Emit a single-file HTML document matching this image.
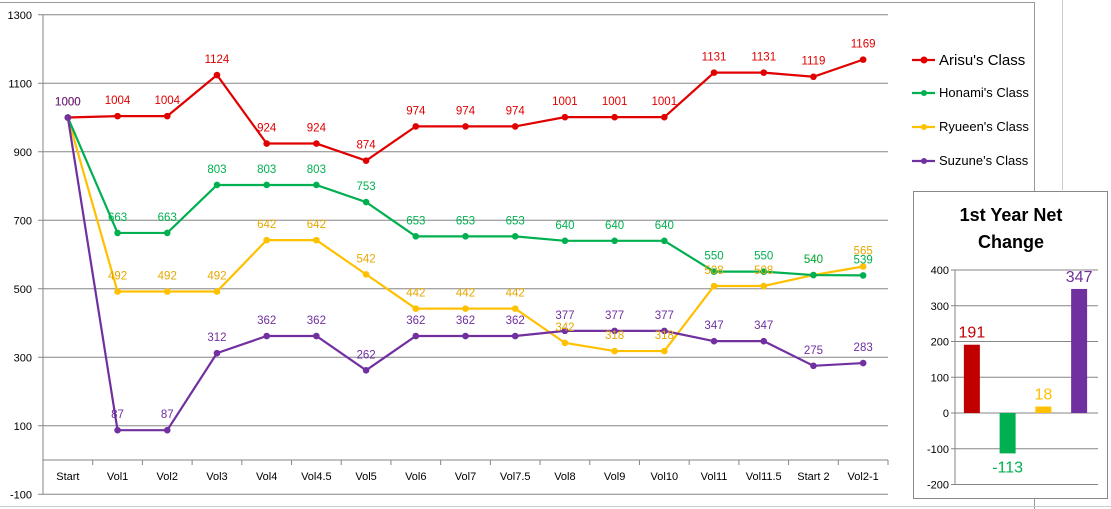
<!DOCTYPE html>
<html><head><meta charset="utf-8"><style>
html,body{margin:0;padding:0;background:#fff;}
body{width:1111px;height:509px;overflow:hidden;position:relative;font-family:"Liberation Sans",sans-serif;}
svg{position:absolute;left:0;top:0;}
</style></head><body>
<svg id="chart" width="1111" height="509">
  <line x1="0" y1="2.5" x2="1034" y2="2.5" stroke="#999"/>
  <line x1="1034.5" y1="2" x2="1034.5" y2="509" stroke="#999"/>
  <line x1="1062.5" y1="0" x2="1062.5" y2="190" stroke="#ccc"/>
  <line x1="0" y1="506.5" x2="1111" y2="506.5" stroke="#ccc"/>
  <g id="grid"></g><g id="lines"></g><g id="labels"></g>
  <g font-size="13" fill="#000">
    <g><line x1="912" y1="60" x2="935" y2="60" stroke="#e00000" stroke-width="2.2"/><circle cx="924" cy="60" r="3.5" fill="#e00000"/><text x="939" y="65" font-size="15">Arisu's Class</text></g>
    <g><line x1="912" y1="93" x2="935" y2="93" stroke="#00b050" stroke-width="2.2"/><circle cx="924" cy="93" r="3" fill="#00b050"/><text x="939" y="97">Honami's Class</text></g>
    <g><line x1="912" y1="127" x2="935" y2="127" stroke="#ffc000" stroke-width="2.2"/><circle cx="924" cy="127" r="3" fill="#ffc000"/><text x="939" y="131">Ryueen's Class</text></g>
    <g><line x1="912" y1="161" x2="935" y2="161" stroke="#7030a0" stroke-width="2.2"/><circle cx="924" cy="161" r="3" fill="#7030a0"/><text x="939" y="165">Suzune's Class</text></g>
  </g>
  <g>
    <rect x="913.5" y="191.5" width="194" height="307" fill="#fff" stroke="#888"/>
    <text x="1011" y="221" text-anchor="middle" font-size="18" font-weight="bold">1st Year Net</text>
    <text x="1011" y="248" text-anchor="middle" font-size="18" font-weight="bold">Change</text>
    <g id="inset"></g>
  </g>
</svg>
<script>
const categories=["Start","Vol1","Vol2","Vol3","Vol4","Vol4.5","Vol5","Vol6","Vol7","Vol7.5","Vol8","Vol9","Vol10","Vol11","Vol11.5","Start 2","Vol2-1"];
const arisu=[1000,1004,1004,1124,924,924,874,974,974,974,1001,1001,1001,1131,1131,1119,1169];
const honami=[1000,663,663,803,803,803,753,653,653,653,640,640,640,550,550,540,539];
const ryueen=[1000,492,492,492,642,642,542,442,442,442,342,318,318,508,508,540,565];
const suzune=[1000,87,87,312,362,362,262,362,362,362,377,377,377,347,347,275,283];
const yTicks=[1300,1100,900,700,500,300,100,-100];
const netCats=["Arisu","Honami","Ryueen","Suzune"];
const netValues=[191,-113,18,347];
const netTicks=[400,300,200,100,0,-100,-200];

const NS="http://www.w3.org/2000/svg";
function mk(tag,attrs,parent){const e=document.createElementNS(NS,tag);for(const k in attrs)e.setAttribute(k,attrs[k]);parent.appendChild(e);return e;}
const L=43,R=888,step=(R-L)/categories.length;
const x=i=>L+step*(i+0.5);
const y=v=>460-v*0.3425;
const grid=document.getElementById('grid'),lines=document.getElementById('lines'),labels=document.getElementById('labels');
yTicks.forEach(t=>{
  const g=mk('line',{x1:38,x2:R,y1:y(t),y2:y(t),stroke:'#868686'},grid);
  
  
  const tx=mk('text',{x:32,y:y(t)+4,'text-anchor':'end','font-size':11,fill:'#000'},grid);tx.textContent=t;
  
  
});
const ax=mk('line',{x1:L,x2:R,y1:y(0),y2:y(0),stroke:'#868686'},grid);


const ay=mk('line',{x1:L,x2:L,y1:y(1300),y2:y(-100),stroke:'#868686'},grid);


categories.forEach((c,i)=>{
  const tk=mk('line',{x1:L+step*(i+1),x2:L+step*(i+1),y1:y(0),y2:y(0)+5,stroke:'#868686'},grid);
  
  
  const t=mk('text',{x:x(i),y:y(0)+20,'text-anchor':'middle','font-size':11,fill:'#000'},grid);t.textContent=c;
  
  
});
const series=[[ryueen,'#ffc000','#e6a800','ryueen'],[honami,'#00b050','#00b050','honami'],[arisu,'#e00000','#e00000','arisu'],[suzune,'#7030a0','#7030a0','suzune']];
series.forEach(([d,col,lc,n])=>{
  const p=mk('polyline',{points:d.map((v,i)=>x(i)+','+y(v)).join(' '),fill:'none',stroke:col,'stroke-width':2.2},lines);
  
  
  d.forEach((v,i)=>{
    const c=mk('circle',{cx:x(i),cy:y(v),r:3.3,fill:col},lines);
    
    
    const t=mk('text',{x:x(i),y:y(v)-12,'text-anchor':'middle','font-size':11.5,fill:lc},labels);t.textContent=v;
    
    
  });
});
// inset
const inset=document.getElementById('inset');
const iL=955,iR=1098,iy=v=>413-v*0.3575,istep=(iR-iL)/netCats.length;
const ncol=['#c00000','#00b050','#ffc000','#7030a0'],lcol=['#c00000','#00b050','#ffc000','#7030a0'];
netTicks.forEach(t=>{
  const g=mk('line',{x1:iL-4,x2:iR,y1:iy(t),y2:iy(t),stroke:'#868686'},inset);
  
  
  const tx=mk('text',{x:iL-6,y:iy(t)+4,'text-anchor':'end','font-size':11,fill:'#000'},inset);tx.textContent=t;
  
  
});
const iax=mk('line',{x1:iL,x2:iL,y1:iy(400),y2:iy(-200),stroke:'#868686'},inset);


netValues.forEach((v,i)=>{
  const cx=iL+istep*(i+0.5)-1,w=16;
  const b=mk('rect',{x:cx-w/2,y:Math.min(iy(v),iy(0)),width:w,height:Math.abs(iy(v)-iy(0)),fill:ncol[i]},inset);
  
  
  const ly=v>=0?iy(v)-7:iy(v)+19;
  const t=mk('text',{x:cx,y:ly,'text-anchor':'middle','font-size':16,fill:lcol[i]},inset);t.textContent=v;
  
  
});
</script>
</body></html>
